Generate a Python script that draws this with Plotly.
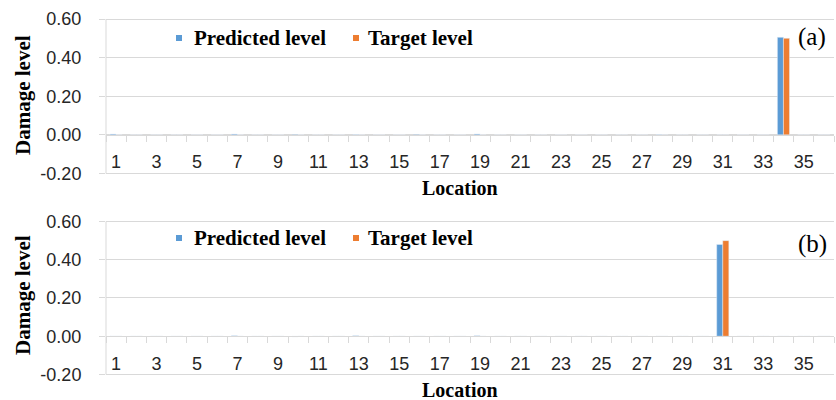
import plotly.graph_objects as go

# Locations along the structure
locations = [str(i) for i in range(1, 37)]

# Panel (a): damage at location 34
pred_a = [0.0] * 36
pred_a[0] = 0.004
pred_a[6] = 0.004
pred_a[9] = -0.002
pred_a[12] = 0.002
pred_a[15] = -0.003
pred_a[18] = 0.005
pred_a[27] = 0.002
pred_a[33] = 0.505
target_a = [0.0] * 36
target_a[33] = 0.50

# Panel (b): damage at location 31
pred_b = [0.0] * 36
pred_b[6] = 0.002
pred_b[9] = -0.003
pred_b[12] = 0.002
pred_b[18] = 0.003
pred_b[30] = 0.48
target_b = [0.0] * 36
target_b[30] = 0.50

y_tickvals = [-0.2, 0.0, 0.2, 0.4, 0.6]
y_ticktext = ["-0.20", "0.00", "0.20", "0.40", "0.60"]
x_ticktext = [c if int(c) % 2 == 1 else "" for c in locations]

BLUE = "#5B9BD5"
ORANGE = "#ED7D31"
GRID = "#D9D9D9"
TICKFONT = dict(family="Liberation Sans", size=18, color="#262626")
SERIF = "Liberation Serif"

W, H = 836, 400
L, R, T, B = 106, 2, 10, 15
PW, PH = W - L - R, H - T - B
YMIN, YMAX = -0.2, 0.6
YPAD = 0.012  # end gridlines must sit a few px inside the plotting range to be drawn

def py(ypix):
    return 1 - (ypix - T) / PH

def px(xpix):
    return (xpix - L) / PW

def domain_for(top_pix, bottom_pix):
    # top_pix / bottom_pix: where the 0.60 and -0.20 gridlines land
    per_unit = (bottom_pix - top_pix) / (YMAX - YMIN)
    pad = YPAD * per_unit
    return [py(bottom_pix + pad), py(top_pix - pad)]

dom_a = domain_for(19, 173.5)
dom_b = domain_for(221.5, 374.5)

fig = go.Figure()
for (pred, targ, xa, ya) in [(pred_a, target_a, "x", "y"), (pred_b, target_b, "x2", "y2")]:
    fig.add_trace(go.Bar(x=locations, y=pred, name="Predicted level", marker_color=BLUE,
                         xaxis=xa, yaxis=ya, showlegend=False))
    fig.add_trace(go.Bar(x=locations, y=targ, name="Target level", marker_color=ORANGE,
                         xaxis=xa, yaxis=ya, showlegend=False))

def yaxis_cfg(dom, anchor):
    return dict(domain=dom, anchor=anchor, range=[YMIN - YPAD, YMAX + YPAD], tickvals=y_tickvals,
                ticktext=y_ticktext, showgrid=True, gridcolor=GRID, gridwidth=1,
                zeroline=False, showline=False,
                ticks="outside", ticklen=6, tickcolor=GRID, tickfont=TICKFONT,
                ticklabelstandoff=14, fixedrange=True)

def xaxis_cfg(dom):
    span = (YMAX - YMIN) + 2 * YPAD
    zero_pos = dom[0] + (0 - YMIN + YPAD) / span * (dom[1] - dom[0])
    return dict(type="category", anchor="free", position=zero_pos,
                tickvals=locations, ticktext=x_ticktext, tickson="boundaries",
                ticks="outside", ticklen=6, tickcolor=GRID, showline=True,
                linecolor=GRID, linewidth=1, showgrid=False, zeroline=False,
                tickfont=TICKFONT, ticklabelstandoff=11, tickangle=0,
                range=[-0.5, 35.5], fixedrange=True)

fig.update_layout(
    width=W, height=H,
    margin=dict(l=L, r=R, t=T, b=B),
    paper_bgcolor="white", plot_bgcolor="white",
    barmode="group", bargap=0.4, bargroupgap=0,
    xaxis=xaxis_cfg(dom_a),
    yaxis=yaxis_cfg(dom_a, "x"),
    xaxis2=xaxis_cfg(dom_b),
    yaxis2=yaxis_cfg(dom_b, "x2"),
)

annotations = []
shapes = []
bold = dict(family=SERIF, size=21, color="black")
panels = [("(a)", 38, 95, 188, 37, 19, 173.5), ("(b)", 238, 295, 390, 244, 221.5, 374.5)]
for (panel, legend_y, title_y, loc_y, tag_y, top_pix, bot_pix) in panels:
    # vertical value-axis line spanning -0.20 .. 0.60
    shapes.append(dict(type="line", xref="paper", yref="paper", x0=0, x1=0,
                       y0=py(bot_pix), y1=py(top_pix), line=dict(color=GRID, width=1)))
    # legend
    for (sq_x, txt_x, color, label) in [(176, 192, BLUE, "Predicted level"), (353, 366, ORANGE, "Target level")]:
        shapes.append(dict(type="rect", xref="paper", yref="paper",
                           x0=px(sq_x), x1=px(sq_x + 6), y0=py(legend_y + 3), y1=py(legend_y - 3),
                           fillcolor=color, line_width=0))
        annotations.append(dict(text="<b>%s</b>" % label, xref="paper", yref="paper",
                                x=px(txt_x), y=py(legend_y), xanchor="left", yanchor="middle",
                                showarrow=False, font=bold))
    # axis titles
    annotations.append(dict(text="<b>Damage level</b>", xref="paper", yref="paper",
                            x=px(23), y=py(title_y), textangle=-90, xanchor="center",
                            yanchor="middle", showarrow=False, font=bold))
    annotations.append(dict(text="<b>Location</b>", xref="paper", yref="paper",
                            x=px(460), y=py(loc_y), xanchor="center", yanchor="middle",
                            showarrow=False, font=dict(family=SERIF, size=20, color="black")))
    # panel tag
    annotations.append(dict(text=panel, xref="paper", yref="paper",
                            x=px(812), y=py(tag_y), xanchor="center", yanchor="middle",
                            showarrow=False, font=dict(family=SERIF, size=25, color="black")))

fig.update_layout(annotations=annotations, shapes=shapes)

fig.write_html("out.html")
